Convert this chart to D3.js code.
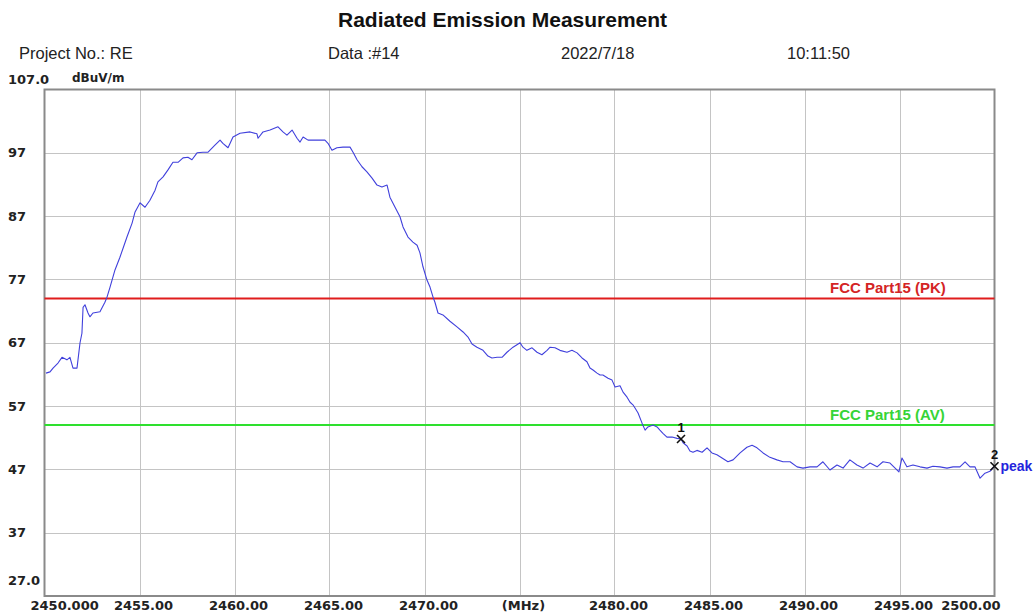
<!DOCTYPE html>
<html>
<head>
<meta charset="utf-8">
<script src="https://cdn.jsdelivr.net/npm/d3@7"></script>
<style>
	body { margin: 0; background: #fff; }
	svg { display: block; }
	.hdr { font-family: "Liberation Sans", Arial, sans-serif; font-size: 16.5px; fill: #222; }
	.tick-lab { font-family: "DejaVu Sans", sans-serif; font-weight: bold; font-size: 13px; fill: #222; }
</style>
</head>
<body>
<script>
// header texts
var titleText = "Radiated Emission Measurement",
    headerItems = ["Project No.: RE", "Data :#14", "2022/7/18", "10:11:50"];

// axis ticks
var xTicks = [2450, 2455, 2460, 2465, 2470, 2475, 2480, 2485, 2490, 2495, 2500],
    xTickLabels = ["2450.000", "2455.00", "2460.00", "2465.00", "2470.00", "(MHz)",
		   "2480.00", "2485.00", "2490.00", "2495.00", "2500.00"],
    yTicks = [107, 97, 87, 77, 67, 57, 47, 37, 27],
    yTickLabels = ["107.0", "97", "87", "77", "67", "57", "47", "37", "27.0"];

// limit lines (dBuV/m)
var limitNames = ["FCC Part15 (PK)", "FCC Part15 (AV)"],
    limitValues = [74, 54];

var freq = [2450.08, 2450.29, 2450.45, 2450.71, 2450.92, 2451.18, 2451.34, 2451.50, 2451.71, 2451.87,
	    2451.97, 2452.03, 2452.13, 2452.29, 2452.39, 2452.55, 2452.92, 2453.18, 2453.29, 2453.45,
	    2453.71, 2453.97, 2454.34, 2454.61, 2454.76, 2455.03, 2455.29, 2455.55, 2455.82, 2455.97,
	    2456.24, 2456.50, 2456.76, 2457.03, 2457.29, 2457.55, 2457.76, 2458.03, 2458.34, 2458.61,
	    2458.97, 2459.24, 2459.39, 2459.66, 2459.92, 2460.29, 2460.82, 2461.18, 2461.24, 2461.50,
	    2461.87, 2462.29, 2462.55, 2462.76, 2463.03, 2463.29, 2463.45, 2463.61, 2463.87, 2464.34,
	    2464.76, 2464.92, 2465.13, 2465.39, 2465.71, 2466.08, 2466.24, 2466.45, 2466.71, 2466.97,
	    2467.24, 2467.50, 2467.76, 2468.03, 2468.18, 2468.45, 2468.71, 2468.87, 2469.13, 2469.39,
	    2469.61, 2469.76, 2469.92, 2470.13, 2470.29, 2470.45, 2470.55, 2470.71, 2470.97, 2471.34,
	    2471.71, 2472.03, 2472.29, 2472.50, 2472.76, 2473.08, 2473.34, 2473.55, 2473.82, 2474.08,
	    2474.34, 2474.66, 2475.03, 2475.18, 2475.39, 2475.66, 2475.92, 2476.18, 2476.45, 2476.61,
	    2476.87, 2477.13, 2477.50, 2477.76, 2478.03, 2478.29, 2478.55, 2478.71, 2478.87, 2479.08,
	    2479.24, 2479.39, 2479.66, 2479.87, 2480.03, 2480.29, 2480.45, 2480.66, 2480.82, 2480.97,
	    2481.08, 2481.24, 2481.45, 2481.61, 2481.76, 2482.03, 2482.24, 2482.39, 2482.55, 2482.76,
	    2483.03, 2483.29, 2483.50, 2483.61, 2483.82, 2483.97, 2484.13, 2484.34, 2484.61, 2484.87,
	    2485.13, 2485.39, 2485.66, 2485.97, 2486.24, 2486.61, 2486.97, 2487.24, 2487.50, 2487.82,
	    2488.18, 2488.55, 2488.87, 2489.24, 2489.61, 2489.92, 2490.29, 2490.66, 2490.97, 2491.34,
	    2491.71, 2492.03, 2492.39, 2492.76, 2493.08, 2493.45, 2493.82, 2494.13, 2494.50, 2494.97,
	    2495.13, 2495.39, 2495.71, 2496.08, 2496.45, 2496.76, 2497.13, 2497.50, 2497.82, 2498.18,
	    2498.45, 2498.71, 2498.97, 2499.24, 2499.50, 2499.76, 2500.00],
    level = [62.2, 62.4, 63.0, 63.8, 64.7, 64.3, 64.7, 63.0, 63.0, 67.0,
	     68.5, 72.6, 73.0, 71.7, 71.1, 71.7, 71.9, 73.4, 74.2, 75.8,
	     78.5, 80.5, 83.7, 85.9, 87.6, 89.1, 88.4, 89.5, 91.1, 92.4,
	     93.2, 94.3, 95.5, 95.5, 96.2, 96.3, 95.9, 97.0, 97.1, 97.1,
	     98.2, 99.0, 98.5, 97.8, 99.5, 100.1, 100.3, 100.0, 99.3, 100.3,
	     100.6, 101.1, 100.3, 99.8, 100.6, 99.3, 98.7, 99.5, 99.0, 99.0,
	     99.0, 98.5, 97.4, 97.8, 97.9, 97.9, 97.1, 95.9, 94.8, 94.0,
	     93.0, 91.9, 91.6, 91.9, 90.0, 88.4, 86.9, 85.3, 83.7, 82.9,
	     82.4, 81.2, 79.0, 76.9, 75.8, 74.2, 73.4, 71.7, 71.4, 70.4,
	     69.5, 68.7, 67.9, 66.8, 66.3, 65.8, 64.9, 64.6, 64.7, 64.7,
	     65.5, 66.3, 67.0, 66.3, 65.8, 66.2, 65.5, 65.1, 65.8, 66.3,
	     66.2, 65.8, 65.5, 65.8, 65.4, 64.6, 64.0, 63.0, 62.7, 62.2,
	     61.9, 61.9, 61.4, 61.1, 60.0, 60.2, 59.2, 58.4, 57.6, 57.2,
	     56.7, 55.9, 54.3, 53.2, 53.7, 54.0, 53.7, 53.2, 52.7, 52.1,
	     52.1, 51.9, 51.8, 51.2, 50.7, 49.9, 49.7, 50.0, 49.7, 50.4,
	     49.6, 49.3, 48.8, 48.2, 48.5, 49.6, 50.5, 50.8, 50.4, 49.6,
	     48.9, 48.5, 48.2, 48.2, 47.4, 47.2, 47.4, 47.4, 48.2, 46.9,
	     47.7, 47.2, 48.5, 47.7, 47.2, 48.0, 47.4, 48.2, 48.0, 46.6,
	     48.8, 47.4, 47.7, 47.4, 47.2, 47.5, 47.4, 47.2, 47.4, 47.4,
	     48.2, 47.4, 47.4, 45.6, 46.4, 46.7, 47.5];

// markers
var markerNos = ["1", "2"],
    markerFreqs = [2483.5, 2500],
    markerLevels = [51.8, 47.5];

draw();

function draw() {
	var width = 1034, height = 615,
	    plot = { left: 44.5, right: 994.5, top: 89.5, bottom: 596 };

	var svg = d3.select("body").append("svg")
		.attr("width", width)
		.attr("height", height);

	var x = d3.scaleLinear().domain([2450, 2500]).range([plot.left, plot.right]),
	    y = d3.scaleLinear().domain([27, 107]).range([plot.bottom, plot.top]);

	// title + header row
	svg.append("text")
		.attr("x", 338).attr("y", 27)
		.style("font-family", "'Liberation Sans', Arial, sans-serif")
		.style("font-weight", "bold")
		.style("font-size", "21px")
		.style("fill", "#111")
		.text(titleText);

	var headerX = [19, 328, 561, 787];
	svg.selectAll("text.hdr").data(headerItems).enter().append("text")
		.attr("class", "hdr")
		.attr("x", function(d, i) { return headerX[i]; })
		.attr("y", 59)
		.text(function(d) { return d; });

	svg.append("text")
		.attr("class", "tick-lab")
		.attr("x", 72).attr("y", 82)
		.style("font-size", "12px")
		.text("dBuV/m");

	// gridlines
	var grid = svg.append("g").attr("class", "grid");
	grid.selectAll("line.v").data(xTicks.slice(1, -1)).enter().append("line")
		.attr("class", "v")
		.attr("x1", function(d) { return Math.round(x(d)) + 0.5; })
		.attr("x2", function(d) { return Math.round(x(d)) + 0.5; })
		.attr("y1", plot.top).attr("y2", plot.bottom)
		.attr("stroke", "#c4c4c4").attr("stroke-width", 1);
	grid.selectAll("line.h").data(yTicks.slice(1, -1)).enter().append("line")
		.attr("class", "h")
		.attr("x1", plot.left).attr("x2", plot.right)
		.attr("y1", function(d) { return Math.round(y(d)) + 0.5; })
		.attr("y2", function(d) { return Math.round(y(d)) + 0.5; })
		.attr("stroke", "#c4c4c4").attr("stroke-width", 1);

	// frame
	svg.append("rect")
		.attr("x", plot.left).attr("y", plot.top)
		.attr("width", plot.right - plot.left)
		.attr("height", plot.bottom - plot.top)
		.attr("fill", "none")
		.attr("stroke", "#8a8a8a")
		.attr("stroke-width", 2);

	// y tick labels; the end ones sit a bit above their line
	svg.selectAll("text.ylab").data(yTicks).enter().append("text")
		.attr("class", "tick-lab ylab")
		.attr("x", 8)
		.attr("y", function(d, i) {
			var off = 0;
			if (i == 0) off = -10;
			else if (i == yTicks.length - 1) off = -16;
			return y(d) + off;
		})
		.attr("dy", "0.36em")
		.text(function(d, i) { return yTickLabels[i]; });

	// x tick labels
	svg.selectAll("text.xlab").data(xTicks).enter().append("text")
		.attr("class", "tick-lab xlab")
		.attr("x", function(d, i) {
			if (i == 0) return x(d) - 14;
			if (i == xTicks.length - 1) return x(d) + 6;
			return x(d) + 4;
		})
		.attr("y", 610)
		.attr("text-anchor", function(d, i) {
			if (i == 0) return "start";
			if (i == xTicks.length - 1) return "end";
			return "middle";
		})
		.text(function(d, i) { return xTickLabels[i]; });

	// limit lines
	var limitColors = ["#e01c1c", "#2ee02e"],
	    limitTextColors = ["#d42424", "#36d436"];
	var lim = svg.selectAll("g.limit").data(limitValues).enter().append("g").attr("class", "limit");
	lim.append("line")
		.attr("x1", plot.left).attr("x2", plot.right)
		.attr("y1", function(d) { return y(d); })
		.attr("y2", function(d) { return y(d); })
		.attr("stroke", function(d, i) { return limitColors[i]; })
		.attr("stroke-width", 2);
	lim.append("text")
		.attr("x", 830)
		.attr("y", function(d) { return y(d) - 5; })
		.style("font-family", "'Liberation Sans', Arial, sans-serif")
		.style("font-weight", "bold")
		.style("font-size", "15px")
		.style("fill", function(d, i) { return limitTextColors[i]; })
		.text(function(d, i) { return limitNames[i]; });

	// trace
	var line = d3.line()
		.x(function(d, i) { return x(freq[i]); })
		.y(function(d) { return y(d); });
	svg.append("path")
		.datum(level)
		.attr("d", line)
		.attr("fill", "none")
		.attr("stroke", "#4040dc")
		.attr("stroke-width", 1.1)
		.attr("stroke-linejoin", "round");

	// markers
	var mk = svg.selectAll("g.marker").data(markerFreqs).enter().append("g")
		.attr("class", "marker")
		.attr("transform", function(d, i) {
			return "translate(" + x(d) + "," + y(markerLevels[i]) + ")";
		});
	mk.append("path")
		.attr("d", "M-4,-4L4,4M-4,4L4,-4")
		.attr("stroke", "#111")
		.attr("stroke-width", 1.6);
	mk.append("text")
		.attr("y", -7)
		.attr("text-anchor", "middle")
		.style("font-family", "'Liberation Sans', Arial, sans-serif")
		.style("font-weight", "bold")
		.style("font-size", "13px")
		.style("fill", "#111")
		.text(function(d, i) { return markerNos[i]; });

	svg.append("text")
		.attr("x", x(2500) + 6)
		.attr("y", y(markerLevels[1]) + 5)
		.style("font-family", "'Liberation Sans', Arial, sans-serif")
		.style("font-weight", "bold")
		.style("font-size", "14px")
		.style("fill", "#2424dc")
		.text("peak");
}
</script>
</body>
</html>
